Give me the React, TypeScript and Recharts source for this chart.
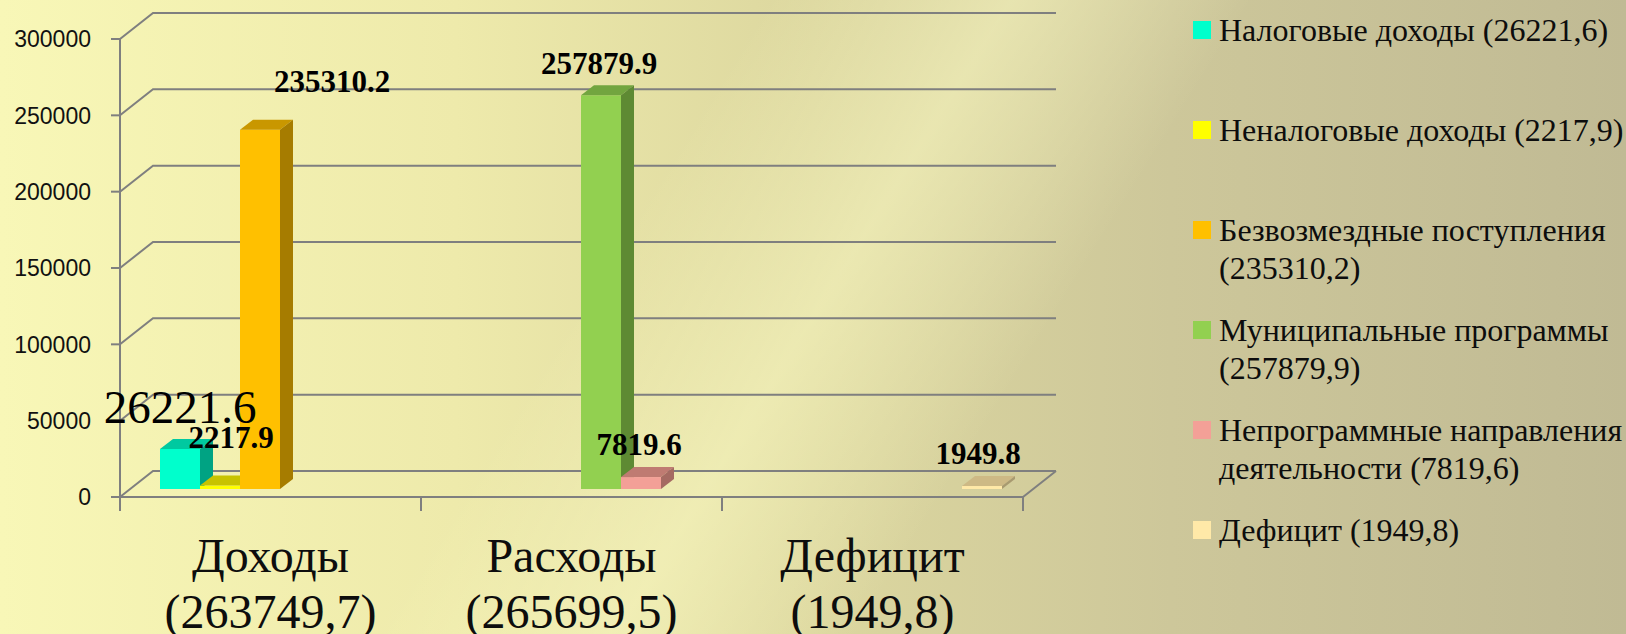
import React from 'react';
import { BarChart, Bar, XAxis, YAxis, CartesianGrid, LabelList } from 'recharts';

// ---------- data ----------
const categories = ['Доходы', 'Расходы', 'Дефицит'];
const categoryTotals = ['(263749,7)', '(265699,5)', '(1949,8)'];

const taxIncome = [26221.6, null, null];
const nonTaxIncome = [2217.9, null, null];
const grants = [235310.2, null, null];
const programs = [null, 257879.9, null];
const nonProgram = [null, 7819.6, null];
const deficit = [null, null, 1949.8];

const yTicks = [0, 50000, 100000, 150000, 200000, 250000, 300000];

const legendLabels = [
  'Налоговые доходы (26221,6)',
  'Неналоговые доходы (2217,9)',
  'Безвозмездные поступления\n(235310,2)',
  'Муниципальные программы\n(257879,9)',
  'Непрограммные направления\nдеятельности (7819,6)',
  'Дефицит (1949,8)',
];

const seriesKeys = ['tax', 'nontax', 'grants', 'programs', 'nonprogram', 'deficit'];
const seriesValues = [taxIncome, nonTaxIncome, grants, programs, nonProgram, deficit];

const data = categories.map((c, i) => {
  const row: any = { name: c, total: categoryTotals[i] };
  seriesKeys.forEach((k, s) => (row[k] = seriesValues[s][i]));
  return row;
});

// ---------- styles ----------
const colors = [
  { front: '#00FFCC', top: '#00C9A0', side: '#00A383' },
  { front: '#FFFF00', top: '#C8C300', side: '#A3A000' },
  { front: '#FFC000', top: '#C99700', side: '#A67C00' },
  { front: '#92D050', top: '#72A53F', side: '#5E8A33' },
  { front: '#F3A097', top: '#BF7B72', side: '#A56A62' },
  { front: '#FFE9A8', top: '#CDB985', side: '#A89A70' },
];

const labelStyles = [
  { size: 47, weight: 'normal', dx: 0, dy: -26 },
  { size: 31, weight: 'bold', dx: 11, dy: -38 },
  { size: 31, weight: 'bold', dx: 72, dy: -38 },
  { size: 31, weight: 'bold', dx: -2, dy: -21 },
  { size: 31, weight: 'bold', dx: -2, dy: -22 },
  { size: 31, weight: 'bold', dx: -4, dy: -22 },
];

const SERIF = '"Liberation Serif", "Times New Roman", serif';
const SANS = '"Liberation Sans", Arial, sans-serif';
const GRID = '#7F7F7F';

// wall depth (walls) and bar placement inside the depth
const WDX = 33;
const WDY = 26;
const BX = 9;
const BY = -8;
const DDX = 13;
const DDY = 10;

const makeShape = (s: number) => (props: any) => {
  const { x, y, width, height, payload } = props;
  const v = payload ? payload[seriesKeys[s]] : null;
  if (v == null || width == null) return <g />;
  const c = colors[s];
  const fx = x + BX;
  const fy = y + BY;
  const h = Math.max(height, 0);
  return (
    <g>
      <rect x={fx} y={fy} width={width} height={h} fill={c.front} />
      <polygon
        points={`${fx},${fy} ${fx + DDX},${fy - DDY} ${fx + width + DDX},${fy - DDY} ${fx + width},${fy}`}
        fill={c.top}
      />
      <polygon
        points={`${fx + width},${fy} ${fx + width + DDX},${fy - DDY} ${fx + width + DDX},${fy + h - DDY} ${fx + width},${fy + h}`}
        fill={c.side}
      />
    </g>
  );
};

const makeLabel = (s: number) => (props: any) => {
  const { x, y, width, value } = props;
  if (value == null || x == null) return null;
  const st = labelStyles[s];
  return (
    <text
      x={x + BX + width / 2 + st.dx}
      y={y + BY + st.dy}
      textAnchor="middle"
      fontFamily={SERIF}
      fontSize={st.size}
      fontWeight={st.weight}
      fill="#000"
    >
      {Number(value).toFixed(1)}
    </text>
  );
};

const gridLine = (p: any) => {
  const bottom = p.y != null && p.height != null ? Math.abs(p.y1 - (p.y + p.height)) < 1 : p.y1 > 490;
  let d = `M${p.x1},${p.y1} L${p.x1 + WDX},${p.y1 - WDY} L${p.x2 + WDX},${p.y2 - WDY}`;
  if (bottom) d += ` M${p.x2},${p.y2} L${p.x2 + WDX},${p.y2 - WDY}`;
  return <path key={p.key} d={d} stroke={GRID} strokeWidth={2} fill="none" />;
};

const XTick = (props: any) => {
  const { x, y, payload, index } = props;
  const half = payload && payload.offset ? payload.offset : 150;
  const i = payload && payload.index != null ? payload.index : index;
  const isLast = i === categories.length - 1;
  return (
    <g>
      <line x1={x - half} y1={y} x2={x - half} y2={y + 14} stroke={GRID} strokeWidth={2} />
      {isLast && <line x1={x + half} y1={y} x2={x + half} y2={y + 14} stroke={GRID} strokeWidth={2} />}
      <text x={x} y={y + 75} textAnchor="middle" fontFamily={SERIF} fontSize={48} fill="#0d0d0d">
        {categories[i]}
      </text>
      <text x={x} y={y + 131} textAnchor="middle" fontFamily={SERIF} fontSize={48} fill="#0d0d0d">
        {categoryTotals[i]}
      </text>
    </g>
  );
};

const YTick = (props: any) => {
  const { x, y, payload } = props;
  return (
    <text x={x} y={y} dy="0.36em" textAnchor="end" fontFamily={SANS} fontSize={23} fill="#111">
      {payload.value}
    </text>
  );
};

export default function App() {
  return (
    <div
      style={{
        position: 'fixed',
        left: 0,
        top: 0,
        width: 1626,
        height: 634,
        overflow: 'hidden',
        background:
          'linear-gradient(122deg, rgba(255,255,210,0) 38%, rgba(255,255,200,0.45) 50%, rgba(255,255,210,0) 62%), linear-gradient(to right, #f8f7b7 0%, #eeeaab 28%, #dcd79f 50%, #cdc79a 72%, #c0ba94 100%)',
      }}
    >
      <BarChart
        width={1626}
        height={634}
        data={data}
        margin={{ top: 39, right: 603, bottom: 0, left: 0 }}
        barSize={40}
        barGap={0}
      >
        <CartesianGrid vertical={false} horizontal={gridLine} />
        <XAxis
          dataKey="name"
          height={137}
          axisLine={{ stroke: GRID, strokeWidth: 2 }}
          tickLine={false}
          tickSize={0}
          tickMargin={0}
          interval={0}
          tick={<XTick />}
        />
        <YAxis
          width={120}
          domain={[0, 300000]}
          ticks={yTicks}
          interval={0}
          axisLine={{ stroke: GRID, strokeWidth: 2 }}
          tickLine={{ stroke: GRID, strokeWidth: 2 }}
          tickSize={9}
          tickMargin={20}
          tick={<YTick />}
        />
        {seriesKeys.map((k, s) => (
          <Bar key={k} dataKey={k} isAnimationActive={false} shape={makeShape(s)}>
            <LabelList dataKey={k} content={makeLabel(s)} />
          </Bar>
        ))}
      </BarChart>
      <div style={{ position: 'absolute', left: 1193, top: 11, display: 'flex', flexDirection: 'column' }}>
        {legendLabels.map((l, i) => (
          <div key={i} style={{ height: 100, display: 'flex', alignItems: 'flex-start' }}>
            <div
              style={{ width: 18, height: 18, marginTop: 10, marginRight: 8, background: colors[i].front, flex: 'none' }}
            />
            <div
              style={{
                fontFamily: SERIF,
                fontSize: 32,
                lineHeight: '38px',
                whiteSpace: 'pre',
                color: '#0d0d0d',
              }}
            >
              {l}
            </div>
          </div>
        ))}
      </div>
    </div>
  );
}
